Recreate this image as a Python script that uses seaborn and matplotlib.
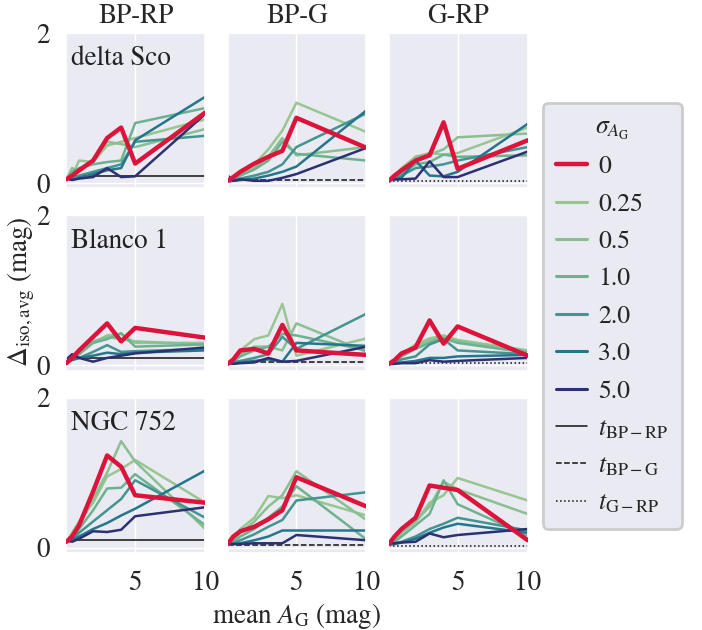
import numpy as np
import pandas as pd
import matplotlib
matplotlib.use("Agg")
import matplotlib.pyplot as plt
from matplotlib.lines import Line2D
import seaborn as sns

# ---------------- data ----------------
mean_AG = [0.1, 0.5, 1, 2, 3, 4, 5, 10]
sigmas = ["0", "0.25", "0.5", "1.0", "2.0", "3.0", "5.0"]
clusters = ["delta Sco", "Blanco 1", "NGC 752"]
colours = ["BP-RP", "BP-G", "G-RP"]
thresholds = [0.10, 0.04, 0.03]
threshold_labels = [r"$t_\mathrm{BP-RP}$", r"$t_\mathrm{BP-G}$", r"$t_\mathrm{G-RP}$"]

# rows: sigma 0, 0.25, 0.5, 1.0, 2.0, 3.0, 5.0
dsco_bp_rp = [
    [0.05, 0.10, 0.17, 0.30, 0.60, 0.74, 0.26, 0.94],
    [0.05, 0.10, 0.30, 0.28, 0.50, 0.55, 0.60, 0.85],
    [0.05, 0.20, 0.15, 0.30, 0.55, 0.52, 0.48, 0.72],
    [0.05, 0.15, 0.20, 0.25, 0.28, 0.30, 0.80, 1.00],
    [0.05, 0.08, 0.10, 0.15, 0.20, 0.25, 0.55, 0.63],
    [0.06, 0.05, 0.07, 0.12, 0.17, 0.20, 0.57, 1.15],
    [0.06, 0.04, 0.06, 0.08, 0.20, 0.08, 0.09, 0.92],
]
dsco_bp_g = [
    [0.03, 0.08, 0.15, 0.26, 0.35, 0.43, 0.87, 0.47],
    [0.03, 0.08, 0.15, 0.25, 0.45, 0.70, 1.07, 0.68],
    [0.03, 0.06, 0.12, 0.20, 0.35, 0.60, 0.37, 0.48],
    [0.02, 0.05, 0.10, 0.18, 0.30, 0.55, 0.39, 0.30],
    [0.02, 0.04, 0.06, 0.10, 0.15, 0.25, 0.48, 0.93],
    [0.02, 0.03, 0.04, 0.06, 0.10, 0.15, 0.22, 0.97],
    [0.10, 0.03, 0.05, 0.03, 0.03, 0.07, 0.12, 0.47],
]
dsco_g_rp = [
    [0.03, 0.10, 0.17, 0.30, 0.37, 0.81, 0.19, 0.57],
    [0.03, 0.10, 0.20, 0.35, 0.40, 0.38, 0.40, 0.74],
    [0.03, 0.10, 0.15, 0.35, 0.38, 0.45, 0.61, 0.66],
    [0.04, 0.08, 0.12, 0.25, 0.28, 0.38, 0.35, 0.37],
    [0.03, 0.05, 0.10, 0.20, 0.22, 0.25, 0.30, 0.48],
    [0.04, 0.05, 0.07, 0.30, 0.10, 0.09, 0.15, 0.79],
    [0.05, 0.05, 0.05, 0.06, 0.29, 0.08, 0.08, 0.42],
]
blanco_bp_rp = [
    [0.03, 0.10, 0.20, 0.38, 0.56, 0.32, 0.50, 0.37],
    [0.03, 0.10, 0.20, 0.30, 0.40, 0.42, 0.30, 0.30],
    [0.03, 0.08, 0.15, 0.32, 0.38, 0.35, 0.32, 0.28],
    [0.03, 0.08, 0.15, 0.30, 0.35, 0.43, 0.25, 0.28],
    [0.04, 0.08, 0.10, 0.18, 0.27, 0.18, 0.19, 0.22],
    [0.05, 0.07, 0.10, 0.13, 0.17, 0.15, 0.17, 0.20],
    [0.08, 0.15, 0.10, 0.05, 0.10, 0.13, 0.16, 0.24],
]
blanco_bp_g = [
    [0.02, 0.08, 0.20, 0.22, 0.16, 0.54, 0.20, 0.14],
    [0.02, 0.08, 0.20, 0.35, 0.40, 0.82, 0.13, 0.36],
    [0.02, 0.06, 0.15, 0.25, 0.25, 0.20, 0.56, 0.18],
    [0.02, 0.05, 0.12, 0.20, 0.25, 0.42, 0.40, 0.20],
    [0.02, 0.04, 0.06, 0.10, 0.15, 0.38, 0.22, 0.69],
    [0.02, 0.03, 0.04, 0.06, 0.08, 0.05, 0.30, 0.26],
    [0.04, 0.02, 0.03, 0.04, 0.10, 0.05, 0.06, 0.25],
]
blanco_g_rp = [
    [0.02, 0.07, 0.16, 0.24, 0.60, 0.29, 0.52, 0.13],
    [0.02, 0.06, 0.15, 0.28, 0.36, 0.40, 0.34, 0.20],
    [0.02, 0.06, 0.13, 0.25, 0.33, 0.38, 0.32, 0.19],
    [0.02, 0.05, 0.12, 0.22, 0.30, 0.36, 0.30, 0.17],
    [0.02, 0.04, 0.08, 0.12, 0.28, 0.35, 0.20, 0.15],
    [0.02, 0.03, 0.04, 0.06, 0.10, 0.10, 0.12, 0.14],
    [0.02, 0.02, 0.03, 0.03, 0.07, 0.05, 0.06, 0.10],
]
ngc_bp_rp = [
    [0.08, 0.15, 0.30, 0.75, 1.23, 1.08, 0.70, 0.60],
    [0.08, 0.20, 0.35, 0.60, 0.95, 1.05, 1.17, 0.60],
    [0.08, 0.15, 0.30, 0.65, 1.00, 1.42, 1.15, 0.25],
    [0.08, 0.12, 0.25, 0.50, 0.79, 0.80, 0.98, 0.30],
    [0.08, 0.10, 0.20, 0.35, 0.50, 0.65, 0.90, 0.40],
    [0.08, 0.10, 0.15, 0.25, 0.33, 0.43, 0.52, 1.03],
    [0.10, 0.08, 0.12, 0.22, 0.21, 0.24, 0.42, 0.54],
]
ngc_bp_g = [
    [0.05, 0.15, 0.22, 0.28, 0.38, 0.50, 0.94, 0.55],
    [0.05, 0.10, 0.25, 0.40, 0.69, 0.66, 0.70, 0.43],
    [0.05, 0.10, 0.20, 0.35, 0.55, 0.70, 1.02, 0.37],
    [0.05, 0.08, 0.15, 0.25, 0.40, 0.55, 0.82, 0.11],
    [0.05, 0.06, 0.10, 0.18, 0.28, 0.37, 0.63, 0.74],
    [0.04, 0.05, 0.06, 0.10, 0.15, 0.23, 0.23, 0.23],
    [0.06, 0.05, 0.05, 0.06, 0.06, 0.06, 0.17, 0.10],
]
ngc_g_rp = [
    [0.05, 0.15, 0.25, 0.40, 0.83, 0.80, 0.77, 0.10],
    [0.05, 0.10, 0.20, 0.35, 0.60, 0.70, 0.93, 0.63],
    [0.05, 0.10, 0.20, 0.35, 0.55, 0.88, 0.78, 0.45],
    [0.05, 0.08, 0.15, 0.30, 0.45, 0.90, 0.58, 0.16],
    [0.04, 0.06, 0.08, 0.15, 0.25, 0.32, 0.40, 0.23],
    [0.04, 0.05, 0.07, 0.12, 0.20, 0.27, 0.32, 0.20],
    [0.06, 0.06, 0.07, 0.08, 0.19, 0.14, 0.17, 0.25],
]

panels = [
    [dsco_bp_rp, dsco_bp_g, dsco_g_rp],
    [blanco_bp_rp, blanco_bp_g, blanco_g_rp],
    [ngc_bp_rp, ngc_bp_g, ngc_g_rp],
]

records = []
for ci, cl in enumerate(clusters):
    for bi, band in enumerate(colours):
        for si, sg in enumerate(sigmas):
            for x, y in zip(mean_AG, panels[ci][bi][si]):
                records.append((cl, band, float(sg), x, y))
df = pd.DataFrame(records, columns=["cluster", "colour", "sigma", "A", "D"])

# ---------------- style ----------------
sns.set_theme(style="darkgrid")
plt.rcParams["font.family"] = ["STIXGeneral", "DejaVu Serif"]
plt.rcParams["mathtext.fontset"] = "stix"
FS = 19.5
LFS = 18.5

cmap = sns.color_palette("crest", as_cmap=True)
norm = matplotlib.colors.Normalize(0, 5)
red = "#DC143C"
tstyles = ["-", "--", ":"]

fig, axes = plt.subplots(3, 3, figsize=(7.02, 6.30), dpi=100, sharex=True, sharey=True)
fig.subplots_adjust(left=0.0947, right=0.7517, top=0.9476, bottom=0.1222,
                    wspace=0.162, hspace=0.174)

for ci, cl in enumerate(clusters):
    for bi, band in enumerate(colours):
        ax = axes[ci, bi]
        sub = df[(df.cluster == cl) & (df.colour == band)]
        ax.axhline(thresholds[bi], color="#111111", lw=1.1, ls=tstyles[bi], zorder=1.5)
        sns.lineplot(data=sub[sub.sigma > 0], x="A", y="D", hue="sigma",
                     palette=cmap, hue_norm=norm, linewidth=1.8,
                     legend=False, errorbar=None, ax=ax, zorder=2)
        sns.lineplot(data=sub[sub.sigma == 0], x="A", y="D", color=red,
                     linewidth=3.2, legend=False, errorbar=None, ax=ax, zorder=3)
        ax.set_xlim(0.1, 10)
        ax.set_ylim(-0.07, 2.0)
        ax.set_xticks([5, 10])
        ax.set_yticks([0, 2])
        ax.set_xlabel("")
        ax.set_ylabel("")
        ax.tick_params(axis="x", labelsize=FS, pad=7)
        ax.tick_params(axis="y", labelsize=FS, pad=6)
        if ci == 0:
            ax.set_title(band, fontsize=FS, pad=7)
        if bi == 0:
            ax.text(0.035, 0.915, cl, transform=ax.transAxes, ha="left", va="top",
                    fontsize=FS, color="#222222")

fig.text(21 / 702, 1 - 292 / 630, r"$\Delta_\mathrm{iso,avg}$ (mag)", rotation=90,
         ha="center", va="center", fontsize=FS)
fig.text(297 / 702, 1 - 616 / 630, r"mean $A_\mathrm{G}$ (mag)", ha="center",
         va="center", fontsize=FS)

handles = [Line2D([], [], color=red, lw=3.2)]
handles += [Line2D([], [], color=cmap(norm(float(s))), lw=2.2) for s in sigmas[1:]]
handles += [Line2D([], [], color="#111111", lw=1.1, ls=s) for s in tstyles]
labels = sigmas + threshold_labels
leg = fig.legend(handles, labels, title=r"$\sigma_{A_\mathrm{G}}$", loc="upper left",
                 bbox_to_anchor=(543 / 702, 1 - 103 / 630), borderaxespad=0.0,
                 fontsize=LFS, title_fontsize=LFS, labelspacing=0.52, handlelength=1.2,
                 handletextpad=0.45, frameon=True, fancybox=True, framealpha=1.0,
                 facecolor="#EAEAF2", edgecolor="#cccccc", borderpad=0.5)
leg.get_frame().set_linewidth(2)

fig.savefig("out.png", dpi=100)
